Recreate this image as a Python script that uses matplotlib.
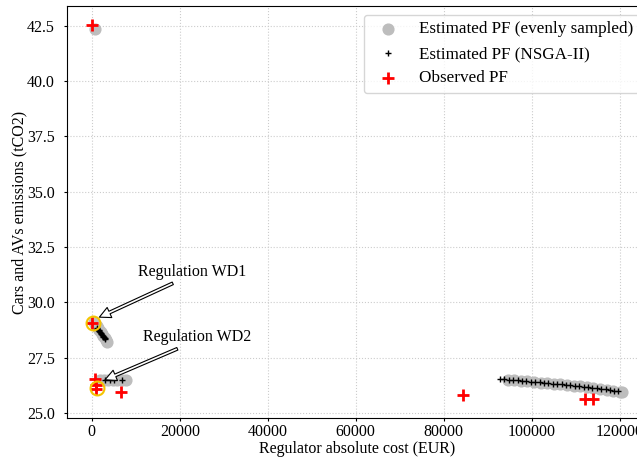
import numpy as np
import matplotlib
matplotlib.use("Agg")
import matplotlib.pyplot as plt

plt.rcParams["font.family"] = ["Liberation Serif", "DejaVu Serif"]
plt.rcParams["font.size"] = 11.5

# evenly sampled estimated Pareto front
even_x = [750,
          500, 800, 1100, 1400, 1700, 2000, 2300, 2600, 2900, 3200, 3500,
          1800, 2800, 3800, 4800, 5800, 6800, 7800,
          94500, 96000, 97500, 99000, 100500, 102000, 103500, 105000, 106500,
          108000, 109500, 111000, 112500, 114000, 115500, 117000, 118500,
          120000, 120400]
even_y = [42.38,
          29.12, 29.02, 28.93, 28.84, 28.75, 28.66, 28.57, 28.48, 28.39, 28.30, 28.22,
          26.50, 26.50, 26.49, 26.49, 26.48, 26.48, 26.47,
          26.50, 26.47, 26.46, 26.43, 26.40, 26.37, 26.35, 26.32, 26.29,
          26.26, 26.23, 26.20, 26.17, 26.12, 26.09, 26.04, 25.99,
          25.95, 25.93]

# NSGA-II estimated Pareto front
nsga_x = [1150, 1300, 1450, 1600, 1750, 1900, 2050, 2200, 2350, 2500, 2650, 2800, 2950, 3100,
          3050, 4160, 5140, 6820,
          92800, 93800, 94800, 95800, 96800, 97800, 98800, 99800, 100800, 101800,
          102800, 103800, 104800, 105800, 106800, 107800, 108800, 109800, 110800,
          111800, 112800, 113800, 114800, 115800, 116800, 117800, 118800, 119500]
nsga_y = [28.85, 28.81, 28.77, 28.73, 28.69, 28.65, 28.61, 28.57, 28.53, 28.49, 28.45, 28.42, 28.38, 28.34,
          26.51, 26.50, 26.50, 26.49,
          26.52, 26.52, 26.51, 26.49, 26.47, 26.46, 26.44, 26.42, 26.40, 26.38,
          26.37, 26.35, 26.33, 26.31, 26.29, 26.27, 26.25, 26.23, 26.21,
          26.19, 26.17, 26.14, 26.12, 26.09, 26.06, 26.03, 26.00, 25.97]

# observed Pareto front
obs_x = [0, 150, 770, 980, 980, 6680, 84450, 112100, 114000]
obs_y = [42.53, 29.08, 26.55, 26.28, 26.10, 25.93, 25.83, 25.65, 25.65]

# highlighted regulations
reg_x = [200, 1150]
reg_y = [29.05, 26.12]
reg_labels = ["Regulation WD1", "Regulation WD2"]
reg_tips = [(1730, 29.33), (3020, 26.50)]
reg_tails = [(18410, 30.86), (19450, 27.90)]
reg_text = [(22730, 31.37), (23860, 28.42)]

fig = plt.figure(figsize=(6.37, 4.59), dpi=100)
ax = fig.add_axes([0.1047, 0.0893, 0.9131, 0.8976])

ax.scatter(even_x, even_y, s=60, color="#bdbdbd", label="Estimated PF (evenly sampled)", zorder=2)
ax.scatter(nsga_x, nsga_y, s=22, marker="+", color="black", linewidths=1,
           label="Estimated PF (NSGA-II)", zorder=3)
ax.scatter(obs_x, obs_y, s=70, marker="+", color="red", linewidths=2,
           label="Observed PF", zorder=4)
ax.plot(reg_x, reg_y, "o", ms=10, mfc="none", mec="#f5c400", mew=1.5, zorder=5)

for lab, tip, tail, txt in zip(reg_labels, reg_tips, reg_tails, reg_text):
    ax.annotate("", xy=tip, xytext=tail,
                arrowprops=dict(facecolor="white", edgecolor="black", lw=0.8,
                                width=2, headwidth=8, headlength=8))
    ax.text(txt[0], txt[1], lab, ha="center", va="center")

ax.set_xlim(-5700, 126500)
ax.set_ylim(24.77, 43.4)
ax.set_yticks(np.arange(25.0, 43.0, 2.5))
ax.tick_params(axis="x", length=2, pad=2)
ax.tick_params(axis="y", length=2.5, pad=6)
ax.grid(True, linestyle=":", color="#cccccc", linewidth=0.8)
ax.set_axisbelow(True)
ax.set_xlabel("Regulator absolute cost (EUR)", labelpad=1)
ax.set_ylabel("Cars and AVs emissions (tCO2)", labelpad=0)
ax.legend(loc="upper right", fontsize=12.3)

fig.savefig("out.png", dpi=100)
